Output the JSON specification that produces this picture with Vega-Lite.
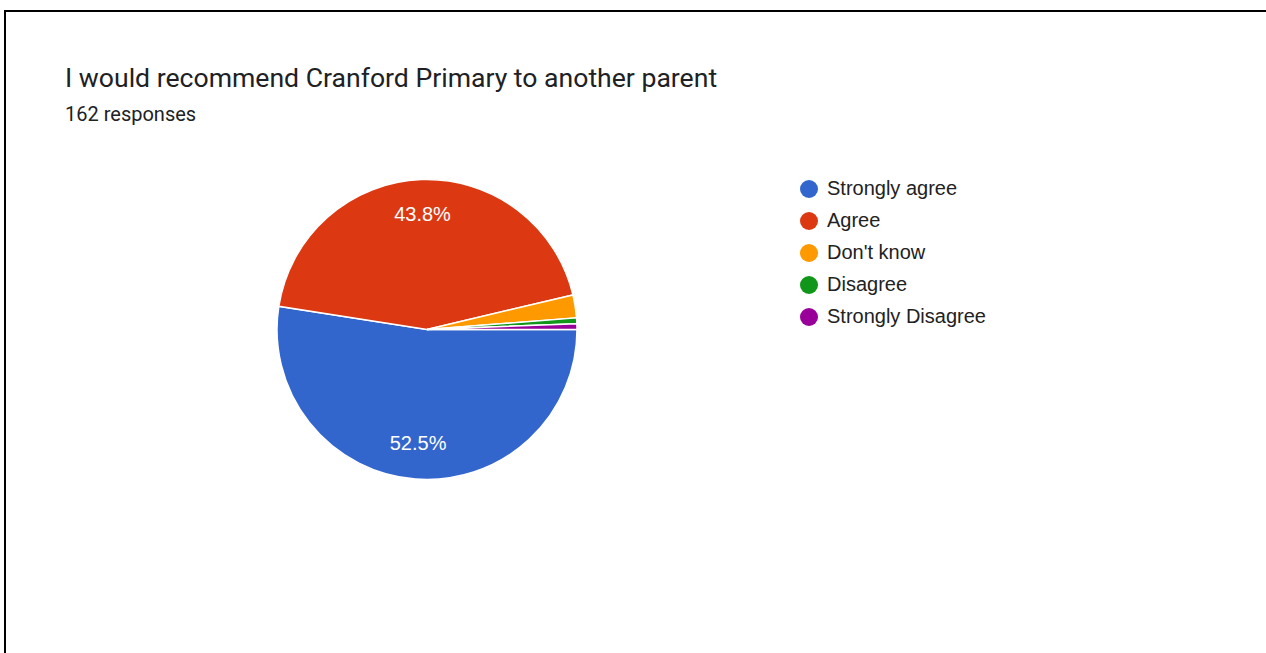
{
  "$schema": "https://vega.github.io/schema/vega-lite/v6.json",
  "autosize": {"type": "none"},
  "width": 1300,
  "height": 700,
  "padding": {"left": 5, "top": 11, "right": 0, "bottom": 0},
  "background": "white",
  "view": {"stroke": "#000000", "strokeWidth": 2, "fill": "white"},
  "config": {
    "font": "Liberation Sans"
  },
  "title": {
    "text": "I would recommend Cranford Primary to another parent",
    "subtitle": "162 responses",
    "anchor": "start",
    "frame": "group",
    "orient": "top",
    "offset": 0,
    "dx": 60,
    "dy": 114,
    "font": "Roboto",
    "fontSize": 26.6,
    "fontWeight": "normal",
    "color": "#202124",
    "subtitleFont": "Roboto",
    "subtitleFontSize": 20,
    "subtitleColor": "#202124",
    "subtitlePadding": 12
  },
  "data": {
    "values": [
      {"answer": "Strongly agree", "count": 85, "label": "52.5%"},
      {"answer": "Agree", "count": 71, "label": "43.8%"},
      {"answer": "Don't know", "count": 4, "label": "2.5%"},
      {"answer": "Disagree", "count": 1, "label": "0.6%"},
      {"answer": "Strongly Disagree", "count": 1, "label": "0.6%"}
    ]
  },
  "transform": [
    {"calculate": "indexof(['Strongly agree', 'Agree', 'Don\\'t know', 'Disagree', 'Strongly Disagree'], datum.answer)", "as": "rank"}
  ],
  "encoding": {
    "theta": {"field": "count", "type": "quantitative", "stack": true, "scale": {"range": [1.5707963, 7.8539816]}},
    "order": {"field": "rank", "type": "quantitative", "sort": "ascending"},
    "color": {
      "field": "answer",
      "type": "nominal",
      "sort": ["Strongly agree", "Agree", "Don't know", "Disagree", "Strongly Disagree"],
      "scale": {
        "domain": ["Strongly agree", "Agree", "Don't know", "Disagree", "Strongly Disagree"],
        "range": ["#3366cc", "#dc3912", "#ff9900", "#109618", "#990099"]
      },
      "legend": {
        "title": null,
        "orient": "none",
        "legendX": 794,
        "legendY": 168,
        "symbolType": "circle",
        "symbolSize": 324,
        "symbolStrokeWidth": 0,
        "labelFont": "Liberation Sans",
        "labelFontSize": 20,
        "labelColor": "#222222",
        "labelOffset": 8,
        "rowPadding": 12,
        "padding": 0,
        "labelLimit": 400
      }
    }
  },
  "layer": [
    {
      "mark": {"type": "arc", "outerRadius": 150, "x": 422, "y": 318.5, "stroke": "white", "strokeWidth": 1.5}
    },
    {
      "mark": {"type": "text", "radius": 115, "x": 422, "y": 318.5, "font": "Liberation Sans", "fontSize": 20, "fill": "white", "baseline": "middle", "align": "center"},
      "encoding": {
        "text": {"condition": {"test": "datum.count > 10", "field": "label"}, "value": ""},
        "color": {"value": "white"}
      }
    }
  ]
}
